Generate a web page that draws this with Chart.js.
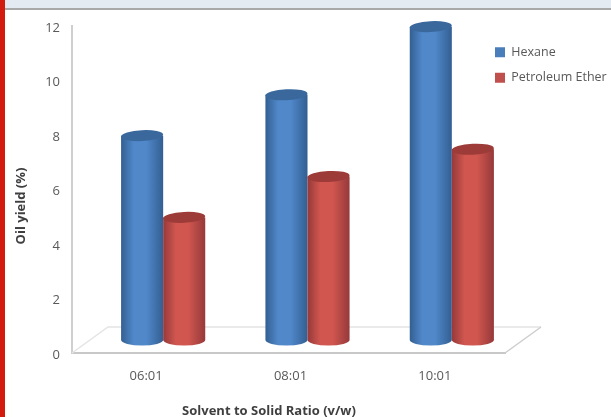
<!DOCTYPE html>
<html>
<head>
<meta charset="utf-8">
<title>Oil yield</title>
<script src="https://cdn.jsdelivr.net/npm/chart.js@4/dist/chart.umd.min.js"></script>
<style>
  html, body { margin: 0; padding: 0; background: #fff; overflow: hidden; }
  #wrap { position: relative; width: 611px; height: 417px; overflow: hidden; }
  #chart { position: absolute; left: 0; top: 0; }
  #topband { position: absolute; left: 0; top: 0; width: 611px; height: 8px; background: #e3eaf2; border-bottom: 2px solid #a8a8a8; }
  #sidebar { position: absolute; left: 0; top: 0; width: 5px; height: 417px; background: #d21a0e; }
</style>
</head>
<body>
<div id="wrap">
  <canvas id="chart" width="611" height="417"></canvas>
  <div id="topband"></div>
  <div id="sidebar"></div>
</div>
<script>
"use strict";

const categories = ["06:01", "08:01", "10:01"];
const hexane = [7.5, 9, 11.5];
const petroleumEther = [4.5, 6, 7];
const yMin = 0;
const yMax = 12;
const yStep = 2;
const xTitle = "Solvent to Solid Ratio (v/w)";
const yTitle = "Oil yield (%)";

// floor depth of the fake 3D box, bars stand halfway back on it
const FLOOR_DX = 36, FLOOR_DY = 26;
const BAR_DX = 19, BAR_DY = 13;
const CAP_RY = 5.5;

const LOOK = [
  { flat: "#4a7ebb", edge: "#335f92", mid: "#5088ca", cap: "#3a689c" },
  { flat: "#c0504d", edge: "#96393a", mid: "#d0564f", cap: "#9d3b39" },
];

function cylinder(ctx, bar, look) {
  const w = bar.width, left = bar.x - w / 2, right = bar.x + w / 2;
  const g = ctx.createLinearGradient(left, 0, right, 0);
  g.addColorStop(0, look.edge);
  g.addColorStop(0.3, look.mid);
  g.addColorStop(0.6, look.mid);
  g.addColorStop(1, look.edge);
  ctx.fillStyle = g;
  ctx.beginPath();
  ctx.moveTo(left, bar.y);
  ctx.lineTo(left, bar.base);
  ctx.ellipse(bar.x, bar.base, w / 2, CAP_RY, 0, Math.PI, 0, true);
  ctx.lineTo(right, bar.y);
  ctx.closePath();
  ctx.fill();
  // slightly tilted top
  ctx.fillStyle = look.cap;
  ctx.beginPath();
  ctx.ellipse(bar.x, bar.y, w / 2, CAP_RY, -0.05, 0, Math.PI * 2);
  ctx.fill();
}

const box3d = {
  id: "box3d",
  afterLayout(chart) {
    // legend sits over the right end of the plot
    const lg = chart.legend, pad = lg.options.labels.padding;
    lg.left = 495 - pad;
    lg.right = 611;
    lg.top = 46 - pad;
  },
  beforeDatasetsDraw(chart) {
    const { ctx, chartArea: a } = chart;
    ctx.save();
    ctx.lineWidth = 1.5;
    ctx.strokeStyle = "#e4e4e4";
    ctx.beginPath();
    ctx.moveTo(a.left, a.bottom);
    ctx.lineTo(a.left + FLOOR_DX, a.bottom - FLOOR_DY);
    ctx.lineTo(a.right + FLOOR_DX, a.bottom - FLOOR_DY);
    ctx.stroke();
    ctx.strokeStyle = "#cdcdcd";
    ctx.beginPath();
    ctx.moveTo(a.right, a.bottom);
    ctx.lineTo(a.right + FLOOR_DX, a.bottom - FLOOR_DY);
    ctx.stroke();
    ctx.restore();
  },
  // the flat bars are replaced by cylinders below
  beforeDatasetDraw() { return false; },
  afterDatasetsDraw(chart) {
    const ctx = chart.ctx;
    ctx.save();
    ctx.translate(BAR_DX, -BAR_DY);
    // red stands in front of blue, left to right
    chart.data.datasets.forEach((ds, i) => {
      chart.getDatasetMeta(i).data.forEach((bar) => cylinder(ctx, bar, LOOK[i]));
    });
    ctx.restore();

    ctx.save();
    ctx.fillStyle = "#3f3f3f";
    ctx.font = "bold 13px 'Open Sans'";
    ctx.textAlign = "center";
    ctx.textBaseline = "middle";
    ctx.fillText(xTitle, 269, 411);
    ctx.translate(21, 206);
    ctx.rotate(-Math.PI / 2);
    ctx.fillText(yTitle, 0, 0);
    ctx.restore();
  },
};

new Chart(document.getElementById("chart"), {
  type: "bar",
  data: {
    labels: categories,
    datasets: [
      { label: "Hexane", data: hexane, backgroundColor: LOOK[0].flat },
      { label: "Petroleum Ether", data: petroleumEther, backgroundColor: LOOK[1].flat },
    ],
  },
  options: {
    responsive: false,
    animation: false,
    layout: { padding: { top: 26 } },
    categoryPercentage: 0.583,
    barPercentage: 1,
    plugins: {
      tooltip: { enabled: false },
      legend: {
        position: "right",
        maxWidth: 106,
        align: "start",
        labels: {
          boxWidth: 10, boxHeight: 10, padding: 13,
          color: "#595959",
          font: { family: "'Open Sans'", size: 12.5 },
        },
      },
    },
    scales: {
      x: {
        afterFit: (s) => { s.height = 64; },
        grid: { display: false, drawTicks: false },
        border: { color: "#c8c8c8", width: 2 },
        ticks: { color: "#595959", padding: 15, labelOffset: 2, maxRotation: 0, font: { family: "'Open Sans'", size: 13 } },
      },
      y: {
        min: yMin, max: yMax,
        afterFit: (s) => { s.width = 72; },
        grid: { display: false, drawTicks: false },
        border: { color: "#cfcfcf", width: 2 },
        ticks: { stepSize: yStep, color: "#595959", padding: 12, labelOffset: 2, font: { family: "'Open Sans'", size: 13 } },
      },
    },
  },
  plugins: [box3d],
});
</script>
</body>
</html>
